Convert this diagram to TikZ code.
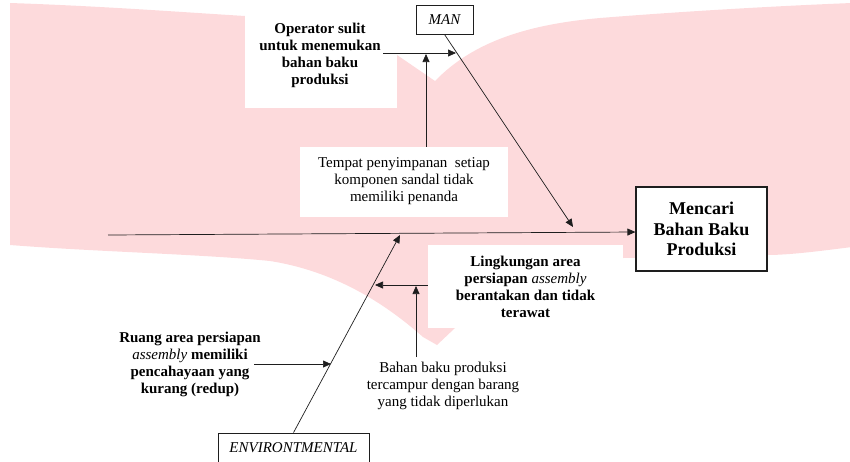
\documentclass[tikz,border=0pt]{standalone}
\usepackage{fontspec}
\setmainfont{Liberation Serif}
\usetikzlibrary{arrows.meta,calc}
\definecolor{wm}{RGB}{253,218,220}
\definecolor{ln}{RGB}{30,30,30}
\begin{document}
\begin{tikzpicture}[x=1pt,y=-1pt,
  txt/.style={font=\fontsize{15}{17}\selectfont, align=center, inner sep=0pt, text=black},
  btxt/.style={font=\fontsize{15}{17}\selectfont\bfseries, align=center, inner sep=0pt, text=black},
  whitebox/.style={fill=white, draw=none, inner sep=0pt},
  catbox/.style={draw=ln, line width=0.8pt, fill=white, inner sep=0pt, font=\fontsize{15}{17}\selectfont\itshape},
  arr/.style={-{Triangle[length=8pt,width=7pt]}, line width=0.7pt, draw=ln},
  bone/.style={line width=0.7pt, draw=ln}]
\useasboundingbox (0,0) rectangle (850,461);
\clip (0,0) rectangle (850,461);
% watermark
\fill[wm] (10,3) .. controls (100,6) and (180,12) .. (245,16) -- (300,22) -- (397,55) -- (435,81)
  .. controls (470,45) and (520,25) .. (600,18) .. controls (700,10) and (800,5) .. (852,3)
  -- (852,247) .. controls (820,251) and (790,255) .. (767,255) -- (623,258) -- (455,328) -- (437,345) -- (423,337)
  .. controls (390,308) and (340,272) .. (270,261) .. controls (200,254) and (100,252) .. (10,245) -- cycle;
% white boxes
\node[whitebox, minimum width=152, minimum height=93] (opbox) at (321,61.5) {};
\node[whitebox, minimum width=208, minimum height=70] (tpbox) at (404,182) {};
\node[whitebox, minimum width=195, minimum height=83] (lkbox) at (525.5,286.5) {};
% category and effect boxes
\node[catbox, minimum width=57, minimum height=29] (man) at (444.5,19.5) {MAN};
\node[catbox, minimum width=151, minimum height=30] (env) at (293.5,448) {ENVIRONTMENTAL};
\node[draw=ln, line width=1.2pt, fill=white, minimum width=131, minimum height=84, inner sep=0pt, align=center,
  font=\fontsize{18}{20.5}\selectfont\bfseries] (eff) at (701.5,229) {Mencari\\Bahan Baku\\Produksi};
% texts
\node[btxt] (op) at (320,55) {Operator sulit\\untuk menemukan\\bahan baku\\produksi};
\node[txt] (tp) at (404,181) {Tempat penyimpanan\ \ setiap\\komponen sandal tidak\\memiliki penanda};
\node[btxt] (lk) at (525.5,287) {Lingkungan area\\persiapan {\mdseries\itshape assembly}\\berantakan dan tidak\\terawat};
\node[btxt] (ru) at (190,364) {Ruang area persiapan\\{\mdseries\itshape assembly} memiliki\\pencahayaan yang\\kurang (redup)};
\node[txt] (bh) at (443,386) {Bahan baku produksi\\tercampur dengan barang\\yang tidak diperlukan};
% spine
\coordinate (tail) at (108,235);
\draw[arr] (tail) -- ($(eff.west)+(0,3)$);
% man bone
\coordinate (manend) at (573,227);
\draw[arr] (man.south) -- (manend);
\coordinate (c1s) at (383,53);
\coordinate (c1) at (456,53);
\draw[arr] (c1s) -- (c1);
\coordinate (c2) at (426,54);
\draw[arr] (c2 |- tpbox.north) -- (c2);
% environment bone
\coordinate (envend) at (400,235);
\draw[arr] (env.north) -- (envend);
\coordinate (c3s) at (254,364);
\coordinate (c3) at (331,364);
\draw[arr] (c3s) -- (c3);
\coordinate (c4) at (375,285);
\draw[arr] (c4 -| lkbox.west) -- (c4);
\coordinate (c5s) at (416,357);
\coordinate (c5) at (416,286);
\draw[arr] (c5s) -- (c5);
\end{tikzpicture}
\end{document}
